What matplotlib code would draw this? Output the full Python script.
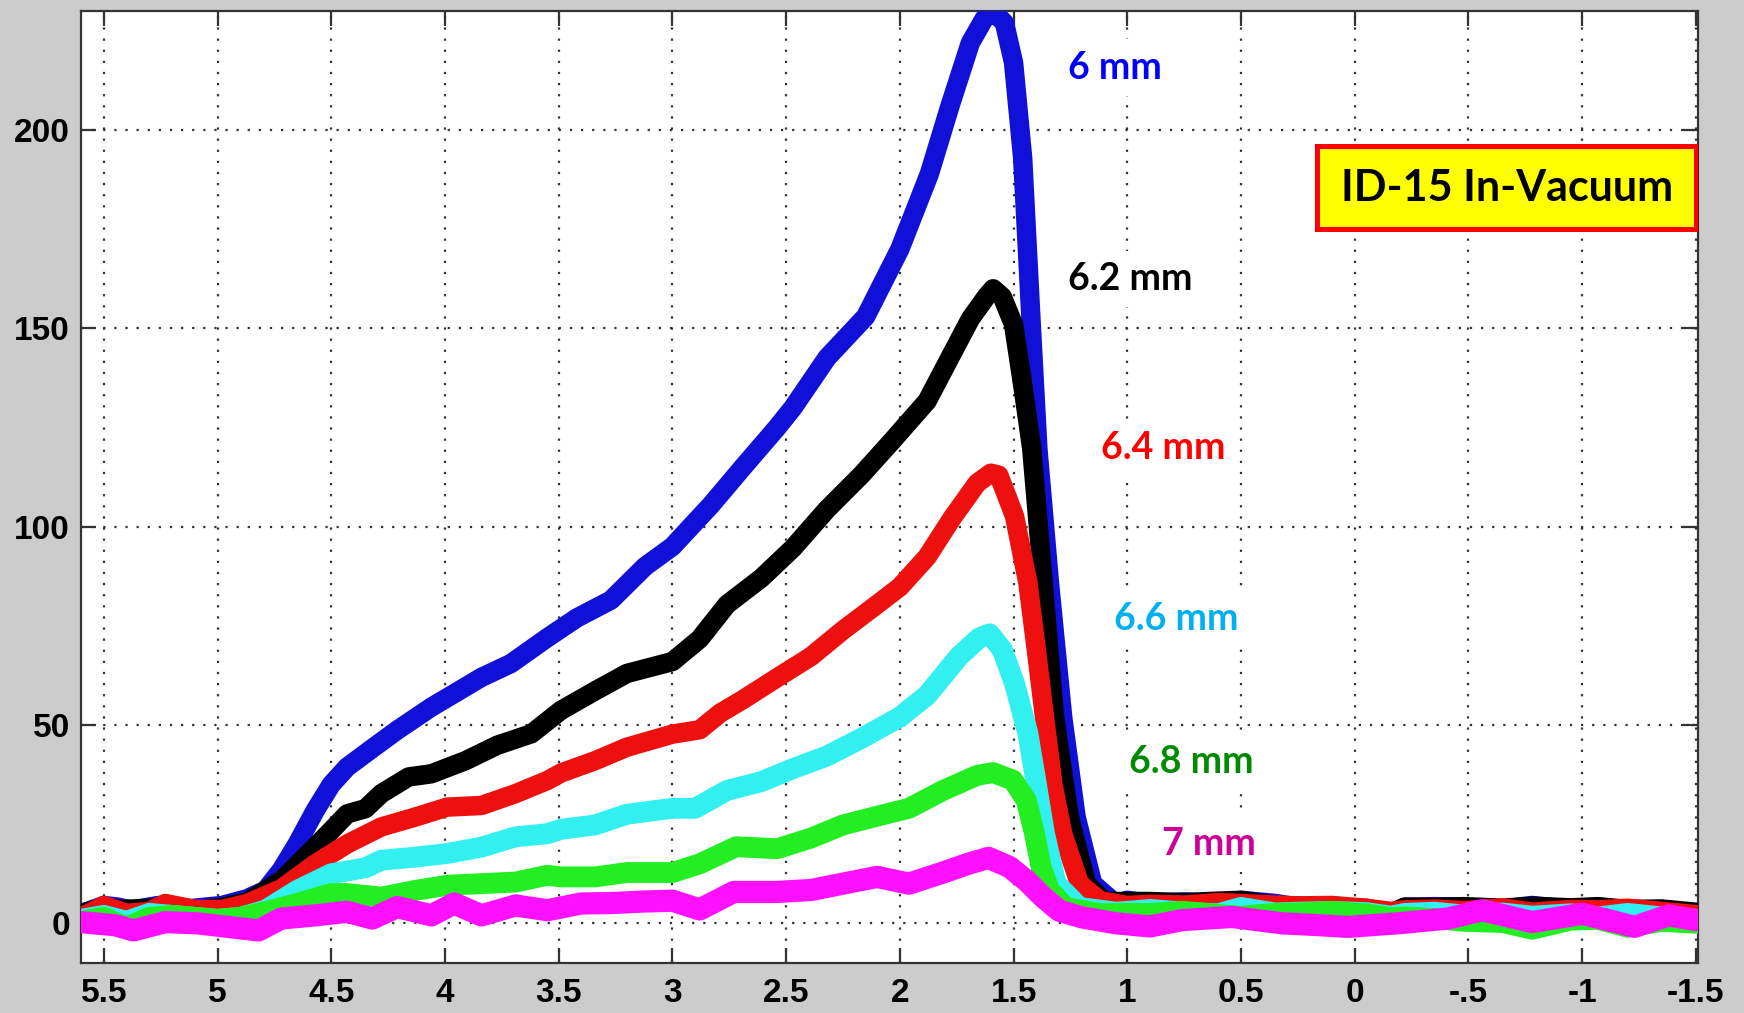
import matplotlib.pyplot as plt
from matplotlib.patches import Rectangle

# Signal vs position for six gap settings
blue_x = [5.6, 5.5, 5.44, 5.38, 5.26, 5.12, 4.98, 4.87, 4.79, 4.72, 4.65, 4.57, 4.5, 4.43,
          4.31, 4.21, 4.06, 3.96, 3.84, 3.71, 3.55, 3.42, 3.27, 3.12, 3.0, 2.83, 2.69, 2.54,
          2.47, 2.32, 2.15, 2.0, 1.87, 1.78, 1.69, 1.63, 1.59, 1.54, 1.5, 1.46, 1.425, 1.393,
          1.342, 1.284, 1.225, 1.152, 1.05, 1.0, 0.9, 0.75, 0.6, 0.5, 0.35, 0.25,
          0.1, -0.05, -0.16, -0.22, -0.35, -0.48, -0.65, -0.78, -0.95, -1.07, -1.2, -1.35, -1.5]
blue_y = [2.4, 4.5, 4.1, 3.3, 4.5, 3.7, 4.5, 6.2, 8.3, 13.4, 20, 28.5, 35, 39.4,
          44.5, 48.7, 54.5, 57.9, 62, 65.5, 72, 77, 81.5, 90, 95, 105.5, 115, 125,
          130, 142.6, 153, 170, 189, 206, 222, 228, 230, 227, 217, 193, 154, 119.6,
          85.8, 52, 26.8, 10, 4.9, 5.8, 5, 5.4, 5, 5.8, 5, 4.1,
          3.7, 3.8, 2.4, 4, 4.2, 4.1, 3.6, 4.5, 3.5, 4, 3.3, 3.5, 2.5]

tail_x = [0.9, 0.75, 0.6, 0.5, 0.35, 0.25, 0.1, -0.05, -0.16, -0.22, -0.35, -0.48,
          -0.65, -0.78, -0.95, -1.07, -1.2, -1.35, -1.5]

black_x = [5.6, 5.5, 5.42, 5.3, 5.2, 5.1, 4.98, 4.87, 4.72, 4.6, 4.5, 4.43, 4.35, 4.28,
           4.16, 4.06, 3.91, 3.77, 3.62, 3.49, 3.34, 3.2, 3.0, 2.88, 2.76, 2.61, 2.47, 2.32,
           2.17, 2.03, 1.88, 1.77, 1.69, 1.62, 1.59, 1.55, 1.5, 1.458, 1.42, 1.37, 1.32,
           1.255, 1.18, 1.1, 1.0] + tail_x
black_y = [2.5, 4, 3.5, 3.8, 4, 3.2, 4, 5.4, 10.8, 17.6, 23.4, 27.6, 28.9, 32.7,
           36.9, 37.7, 41, 44.9, 47.8, 53.7, 58.6, 63, 66, 71.7, 80.4, 87, 94.6, 104.4,
           113, 121.9, 131.7, 143.7, 152.4, 158, 160, 158, 151, 135, 119.6, 85.8, 52,
           26.8, 10, 5.5, 5.5,
           5.5, 5.2, 5.6, 5.8, 4.5, 4.3, 3.6, 3.7, 2.6, 4.1, 4.0, 4.2, 3.8, 4.3, 3.9,
           4.2, 3.5, 3.6, 2.8]

red_x = [5.6, 5.5, 5.4, 5.3, 5.23, 5.1, 4.98, 4.87, 4.79, 4.72, 4.57, 4.43, 4.28, 4.13,
         3.99, 3.84, 3.69, 3.55, 3.49, 3.34, 3.2, 3.0, 2.88, 2.79, 2.69, 2.54, 2.39, 2.25,
         2.1, 2.0, 1.88, 1.77, 1.66, 1.6, 1.565, 1.496, 1.437, 1.4, 1.364, 1.327, 1.284,
         1.21, 1.12, 1.0] + tail_x
red_y = [1.5, 4.5, 2.5, 3, 5, 3.5, 3.5, 5, 7, 8.7, 15, 20, 24.3, 26.8,
         29.3, 29.7, 32.7, 36, 37.9, 41, 44.4, 47.7, 48.8, 53, 56.4, 61.9, 67.3, 73.9,
         80.4, 84.8, 92.4, 102.2, 111, 113.5, 113, 102.7, 85.8, 69, 52, 35, 22.6,
         10, 5.7, 4.5,
         4.8, 4.6, 5.2, 5.0, 4.6, 4.4, 4.5, 3.8, 3.0, 3.4, 3.6, 3.2, 3.9, 2.8, 3.5,
         3.4, 3.8, 3.0, 2.2]

cyan_x = [5.6, 5.5, 5.4, 5.3, 5.2, 5.1, 5.0, 4.9, 4.79, 4.65, 4.5, 4.35, 4.28, 4.13,
          3.99, 3.84, 3.69, 3.55, 3.49, 3.34, 3.2, 3.0, 2.9, 2.76, 2.61, 2.47, 2.32, 2.17,
          2.0, 1.88, 1.74, 1.65, 1.605, 1.55, 1.496, 1.437, 1.4, 1.364, 1.313, 1.21, 1.05,
          1.0] + tail_x
cyan_y = [1, 2, 0.5, 2.5, 2, 1.5, 1, 1.5, 3.3, 8.3, 12.5, 14, 15.9, 16.7,
          17.6, 19.2, 21.8, 22.6, 23.7, 24.8, 27.5, 29, 29, 33.5, 35.7, 39, 42.2, 46.6,
          52, 57.5, 67.3, 72, 73, 69, 60.5, 47.9, 35.2, 22.6, 10, 4, 2.8,
          3,
          3.5, 2.8, 2.4, 4.0, 2.6, 2.8, 3.0, 2.7, 1.8, 2.5, 2.8, 2.1, 2.6, 1.8, 2.4,
          1.6, 2.5, 1.6, 1.0]

green_x = [5.6, 5.5, 5.4, 5.3, 5.2, 5.1, 5.0, 4.9, 4.79, 4.65, 4.5, 4.43, 4.28, 4.13,
           3.99, 3.84, 3.69, 3.55, 3.49, 3.34, 3.2, 3.0, 2.88, 2.72, 2.54, 2.39, 2.25, 2.1,
           1.96, 1.81, 1.66, 1.59, 1.503, 1.444, 1.408, 1.379, 1.342, 1.27, 1.12,
           1.0] + tail_x
green_y = [0.5, 1.5, -1, 1.5, 2, 1.5, 1, 1.5, 2.9, 5, 7.5, 7.5, 6.6, 8.3,
           9.6, 10, 10.4, 12.1, 11.7, 11.7, 12.8, 12.8, 15, 19.3, 18.8, 21.5, 24.8, 27,
           29, 33.5, 37.3, 38, 36.1, 31, 22.6, 14.2, 8.3, 4, 2.4,
           2.5,
           2.5, 3.0, 2.2, 1.8, 2.5, 2.6, 3.0, 2.4, 1.4, 1.6, 1.2, 0.5, 0.2, -1.5, 0.8,
           1.0, -1.0, 0.5, 0.0]

magenta_x = [5.6, 5.45, 5.37, 5.23, 5.09, 4.94, 4.82, 4.72, 4.57, 4.43, 4.32, 4.21, 4.06,
             3.96, 3.84, 3.69, 3.55, 3.4, 3.27, 3.12, 3.0, 2.88, 2.73, 2.54, 2.39, 2.25,
             2.1, 1.96, 1.81, 1.7, 1.61, 1.518, 1.444, 1.37, 1.3, 1.2, 1.05, 0.9, 0.76,
             0.54, 0.32, 0.15, 0.03, -0.19, -0.41, -0.56, -0.78, -1.0, -1.15, -1.23,
             -1.38, -1.5]
magenta_y = [0.3, -0.5, -1.8, 0.3, 0, -1, -1.8, 1.2, 2, 2.9, 1.2, 4.1, 2,
             5, 2, 4.5, 3.3, 5, 5.1, 5.5, 5.7, 3.5, 7.9, 7.9, 8.4, 10,
             11.7, 10, 12.8, 15, 16.5, 14.2, 10.8, 6.6, 3.2, 1.5, 0, -0.8, 0.8,
             1.6, 0, -0.5, -0.9, 0, 1.2, 3.3, 0.3, 2.4, 0.3, -0.9,
             2, 0.8]

series = [
    (blue_x, blue_y, '#1010d8', 14),
    (black_x, black_y, '#000000', 14),
    (red_x, red_y, '#ee0f0f', 14),
    (cyan_x, cyan_y, '#33f0f0', 15),
    (green_x, green_y, '#22ee22', 15),
    (magenta_x, magenta_y, '#ff10ff', 16),
]

gap_labels = ['6 mm', '6.2 mm', '6.4 mm', '6.6 mm', '6.8 mm', '7 mm']
label_colors = ['#0000ff', '#000000', '#ff0000', '#00b0f0', '#008a00', '#cc0099']
label_x = [1.261, 1.261, 1.116, 1.057, 0.994, 0.848]
label_y = [213, 159.7, 117, 74, 37.9, 17.2]

x_ticks = [5.5, 5, 4.5, 4, 3.5, 3, 2.5, 2, 1.5, 1, 0.5, 0, -0.5, -1, -1.5]
x_tick_labels = ['5.5', '5', '4.5', '4', '3.5', '3', '2.5', '2', '1.5', '1', '0.5', '0',
                 '-.5', '-1', '-1.5']
y_ticks = [0, 50, 100, 150, 200]

fig = plt.figure(figsize=(17.44, 10.13), dpi=100, facecolor='#cccccc')
ax = fig.add_axes([0.0465, 0.0494, 0.9272, 0.9396])
ax.set_facecolor('white')

for xs, ys, c, w in series:
    ax.plot(xs, ys, color=c, lw=w, solid_capstyle='round', solid_joinstyle='round',
            zorder=3)

ax.set_xlim(5.6, -1.51)
ax.set_ylim(-10, 230)
ax.set_xticks(x_ticks)
ax.set_xticklabels(x_tick_labels)
ax.set_yticks(y_ticks)

ax.grid(True, color='#333333', linestyle=(0, (1, 4)), linewidth=1.6, zorder=1)
ax.tick_params(direction='in', length=11, width=1.6, color='#333333',
               top=True, right=True, labelsize=24)
ax.tick_params(axis='x', pad=11)
ax.tick_params(axis='y', pad=8)
for lbl in ax.get_xticklabels() + ax.get_yticklabels():
    lbl.set_fontfamily('Liberation Sans')
    lbl.set_fontweight('bold')
for sp in ax.spines.values():
    sp.set_linewidth(1.6)
    sp.set_color('#333333')

for txt, c, lx, ly in zip(gap_labels, label_colors, label_x, label_y):
    ax.text(lx, ly, txt, color=c, fontsize=27, fontweight='bold', family='Lato',
            ha='left', va='baseline', zorder=4,
            bbox=dict(facecolor='white', edgecolor='none', pad=8))

# Title box in the upper right corner
ax.add_patch(Rectangle((0.7644, 0.771), 0.2344, 0.0872, transform=ax.transAxes,
                       facecolor='#ffff00', edgecolor='#ff0000', linewidth=3.6,
                       zorder=5))
ax.text(0.8816, 0.8146, 'ID-15 In-Vacuum', transform=ax.transAxes, fontsize=31,
        fontweight='bold', family='Lato', ha='center', va='center', zorder=6)

fig.savefig('out.png', dpi=100, facecolor=fig.get_facecolor())
